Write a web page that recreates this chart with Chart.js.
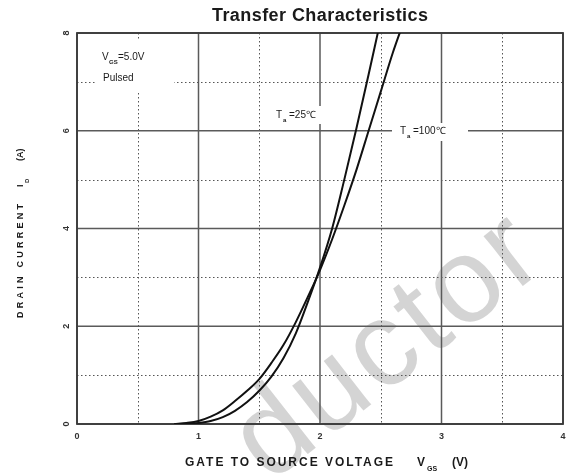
<!DOCTYPE html>
<html>
<head>
<meta charset="utf-8">
<script src="https://cdn.jsdelivr.net/npm/chart.js@4"></script>
<style>
html,body{margin:0;padding:0;background:#fff;}
#wrap{width:572px;height:474px;position:relative;}
</style>
</head>
<body>
<div id="wrap"><canvas id="c" width="572" height="474"></canvas></div>
<script>
// ---- data ----
const vgs25 = [0.90, 1.00, 1.10, 1.20, 1.30, 1.40, 1.50, 1.60, 1.70, 1.80, 1.90, 2.00, 2.10, 2.20, 2.30, 2.40, 2.48];
const id25  = [0.00, 0.02, 0.06, 0.14, 0.27, 0.45, 0.68, 0.97, 1.35, 1.85, 2.50, 3.20, 4.00, 5.00, 6.05, 7.15, 8.05];
const vgs100 = [0.80, 0.90, 1.00, 1.10, 1.20, 1.30, 1.40, 1.50, 1.60, 1.70, 1.80, 1.90, 2.00, 2.10, 2.20, 2.30, 2.40, 2.50, 2.60, 2.67];
const id100  = [0.00, 0.02, 0.06, 0.15, 0.28, 0.47, 0.68, 0.92, 1.25, 1.62, 2.08, 2.60, 3.15, 3.78, 4.47, 5.20, 6.00, 6.80, 7.60, 8.10];
const xTicks = [0, 1, 2, 3, 4];
const yTicks = [0, 2, 4, 6, 8];
const xMinor = [0.5, 1.5, 2.5, 3.5];
const yMinor = [1, 3, 5, 7];
const seriesNames = ['Ta=25℃', 'Ta=100℃'];

const FONT = '"Liberation Sans", Arial, sans-serif';

function pts(xs, ys){ return xs.map((x,i)=>({x:x, y:ys[i]})); }

function fitText(ctx, text, x, y, width, font){
  ctx.font = font;
  ctx.letterSpacing = '0px';
  const w = ctx.measureText(text).width;
  const n = text.length;
  const ls = n > 1 ? (width - w) / (n - 1) : 0;
  ctx.letterSpacing = ls.toFixed(2) + 'px';
  ctx.fillText(text, x, y);
  ctx.letterSpacing = '0px';
}

const deco = {
  id: 'deco',
  beforeDatasetsDraw(chart){
    const ctx = chart.ctx;
    const xs = chart.scales.x, ys = chart.scales.y;
    const a = chart.chartArea;
    ctx.save();
    // faint watermark text present in the source image
    ctx.save();
    ctx.translate(410, 374);
    ctx.rotate(-38 * Math.PI / 180);
    ctx.fillStyle = 'rgba(198,198,198,0.75)';
    ctx.font = '120px ' + FONT;
    ctx.letterSpacing = '4px';
    ctx.textAlign = 'center';
    ctx.textBaseline = 'alphabetic';
    ctx.fillText('ductor', 0, 0);
    ctx.letterSpacing = '0px';
    ctx.restore();
    // minor dotted grid
    ctx.strokeStyle = '#555';
    ctx.lineWidth = 1;
    ctx.setLineDash([1.5, 2.5]);
    xMinor.forEach(v=>{
      const p = Math.round(xs.getPixelForValue(v)) + 0.5;
      ctx.beginPath(); ctx.moveTo(p, a.top); ctx.lineTo(p, a.bottom); ctx.stroke();
    });
    yMinor.forEach(v=>{
      const p = Math.round(ys.getPixelForValue(v)) + 0.5;
      ctx.beginPath(); ctx.moveTo(a.left, p); ctx.lineTo(a.right, p); ctx.stroke();
    });
    // major solid grid
    ctx.setLineDash([]);
    ctx.strokeStyle = '#5a5a5a';
    ctx.lineWidth = 1.5;
    xTicks.forEach(v=>{
      const p = xs.getPixelForValue(v);
      ctx.beginPath(); ctx.moveTo(p, a.top); ctx.lineTo(p, a.bottom); ctx.stroke();
    });
    yTicks.forEach(v=>{
      const p = ys.getPixelForValue(v);
      ctx.beginPath(); ctx.moveTo(a.left, p); ctx.lineTo(a.right, p); ctx.stroke();
    });
    // frame
    ctx.strokeStyle = '#3a3a3a';
    ctx.lineWidth = 1.8;
    ctx.strokeRect(a.left, a.top, a.right - a.left, a.bottom - a.top);
    // white boxes behind annotation labels
    ctx.fillStyle = '#fff';
    ctx.fillRect(96, 41, 78, 50);
    ctx.fillRect(392, 123, 76, 18);
    ctx.fillRect(272, 106, 64, 18);
    ctx.restore();
  },
  afterDraw(chart){
    const ctx = chart.ctx;
    const xs = chart.scales.x, ys = chart.scales.y;
    ctx.save();
    ctx.fillStyle = '#1a1a1a';
    ctx.textBaseline = 'middle';
    // title
    ctx.textAlign = 'left';
    fitText(ctx, 'Transfer Characteristics', 212, 16, 216, 'bold 18px ' + FONT);
    // x tick labels
    ctx.textAlign = 'center';
    ctx.font = 'bold 9px ' + FONT;
    ctx.fillStyle = '#333';
    xTicks.forEach(v=>{
      ctx.fillText(String(v), xs.getPixelForValue(v), 437);
    });
    // y tick labels (rotated)
    yTicks.forEach(v=>{
      ctx.save();
      ctx.translate(67, ys.getPixelForValue(v));
      ctx.rotate(-Math.PI/2);
      ctx.fillText(String(v), 0, 0);
      ctx.restore();
    });
    // x axis title
    ctx.fillStyle = '#1a1a1a';
    ctx.textAlign = 'left';
    fitText(ctx, 'GATE TO SOURCE VOLTAGE', 185, 463, 208, 'bold 12px ' + FONT);
    ctx.font = 'bold 12px ' + FONT;
    ctx.fillText('V', 417, 463);
    ctx.font = 'bold 7px ' + FONT;
    ctx.fillText('GS', 427, 469);
    ctx.font = 'bold 12px ' + FONT;
    ctx.fillText('(V)', 452, 463);
    // y axis title (rotated)
    ctx.save();
    ctx.translate(21, 318);
    ctx.rotate(-Math.PI/2);
    ctx.textAlign = 'left';
    fitText(ctx, 'DRAIN CURRENT', 0, 0, 114, 'bold 9px ' + FONT);
    ctx.font = 'bold 9px ' + FONT;
    ctx.fillText('I', 131, 0);
    ctx.font = 'bold 6px ' + FONT;
    ctx.fillText('D', 135, 6);
    ctx.font = 'bold 9px ' + FONT;
    ctx.fillText('(A)', 157, 0);
    ctx.restore();
    // annotations
    ctx.fillStyle = '#1a1a1a';
    ctx.font = '10px ' + FONT;
    ctx.fillText('V', 102, 57);
    ctx.font = 'bold 6px ' + FONT;
    ctx.fillText('GS', 109, 62);
    ctx.font = '10px ' + FONT;
    ctx.fillText('=5.0V', 118, 57);
    ctx.fillText('Pulsed', 103, 78);
    // Ta = 25
    ctx.fillText('T', 276, 115);
    ctx.font = 'bold 6px ' + FONT;
    ctx.fillText('a', 283, 120);
    ctx.font = '10px ' + FONT;
    ctx.fillText('=25℃', 289, 115);
    // Ta = 100
    ctx.fillText('T', 400, 131);
    ctx.font = 'bold 6px ' + FONT;
    ctx.fillText('a', 407, 136);
    ctx.font = '10px ' + FONT;
    ctx.fillText('=100℃', 413, 131);
    ctx.restore();
  }
};

new Chart(document.getElementById('c'), {
  type: 'line',
  data: {
    datasets: [
      { label: seriesNames[0], data: pts(vgs25, id25), borderColor: '#111', borderWidth: 2,
        pointRadius: 0, cubicInterpolationMode: 'monotone', fill: false },
      { label: seriesNames[1], data: pts(vgs100, id100), borderColor: '#111', borderWidth: 2,
        pointRadius: 0, cubicInterpolationMode: 'monotone', fill: false }
    ]
  },
  options: {
    responsive: false,
    animation: false,
    devicePixelRatio: 1,
    layout: { padding: { left: 77, right: 9, top: 33, bottom: 50 } },
    plugins: { legend: { display: false }, title: { display: false }, tooltip: { enabled: false } },
    scales: {
      x: { type: 'linear', min: 0, max: 4, display: false },
      y: { type: 'linear', min: 0, max: 8, display: false }
    }
  },
  plugins: [deco]
});
</script>
</body>
</html>
